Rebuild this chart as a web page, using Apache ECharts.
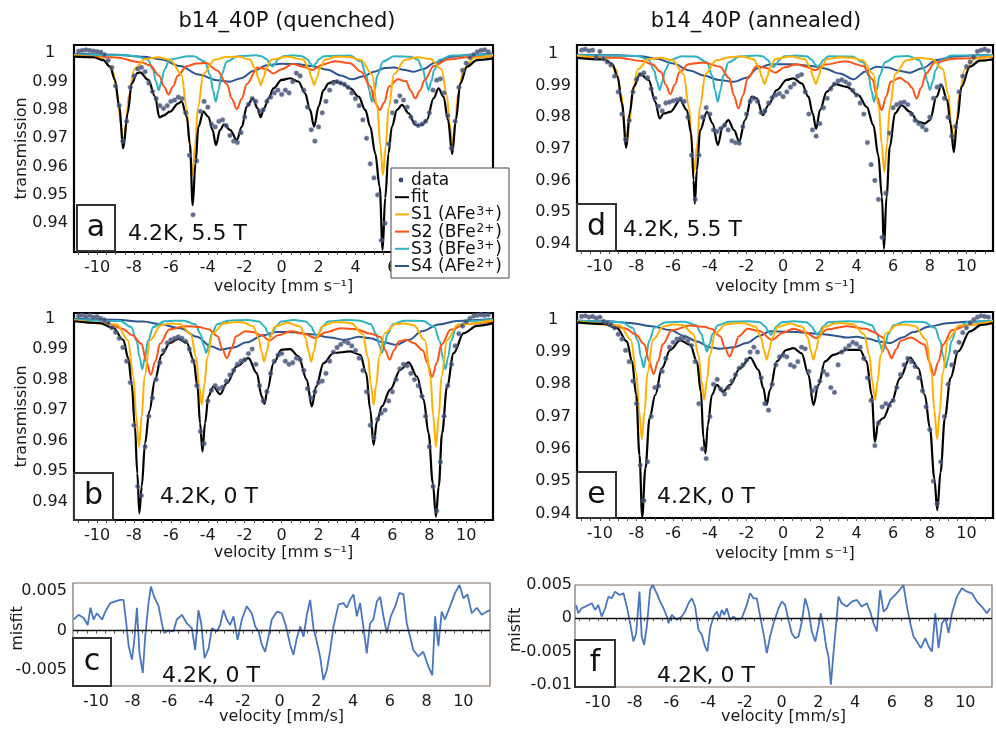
<!DOCTYPE html>
<html><head><meta charset="utf-8">
<script src="https://cdn.jsdelivr.net/npm/echarts/dist/echarts.min.js"></script>
<style>html,body{margin:0;padding:0;background:#fff}#chart{width:996px;height:729px}</style>
</head><body><div id="chart"></div>
<script>
// ---------------- DATA ----------------
const velocity = [
-11,-10.8,-10.6,-10.4,-10.2,-10,-9.8,-9.6,-9.4,-9.2,
-9,-8.8,-8.6,-8.4,-8.2,-8,-7.8,-7.6,-7.4,-7.2,
-7,-6.8,-6.6,-6.4,-6.2,-6,-5.8,-5.6,-5.4,-5.2,
-5,-4.8,-4.6,-4.4,-4.2,-4,-3.8,-3.6,-3.4,-3.2,
-3,-2.8,-2.6,-2.4,-2.2,-2,-1.8,-1.6,-1.4,-1.2,
-1,-0.8,-0.6,-0.4,-0.2,0,0.2,0.4,0.6,0.8,
1,1.2,1.4,1.6,1.8,2,2.2,2.4,2.6,2.8,
3,3.2,3.4,3.6,3.8,4,4.2,4.4,4.6,4.8,
5,5.2,5.4,5.6,5.8,6,6.2,6.4,6.6,6.8,
7,7.2,7.4,7.6,7.8,8,8.2,8.4,8.6,8.8,
9,9.2,9.4,9.6,9.8,10,10.2,10.4,10.6,10.8,
11,11.2];

// quenched, 5.5 T (panel a)
const dataQ55 = [
1.0008,1.0010,1.0012,1.0010,1.0008,1.0006,1.0004,0.9995,0.9975,0.9950,
0.9885,0.9815,0.9690,0.9760,0.9880,0.9920,0.9945,0.9950,0.9935,0.9895,
0.9865,0.9840,0.9815,0.9805,0.9815,0.9830,0.9835,0.9845,0.9840,0.9790,
0.9640,0.9430,0.9620,0.9795,0.9830,0.9810,0.9750,0.9740,0.9760,0.9765,
0.9745,0.9710,0.9690,0.9685,0.9720,0.9775,0.9820,0.9840,0.9830,0.9795,
0.9800,0.9830,0.9845,0.9860,0.9870,0.9855,0.9870,0.9860,0.9900,0.9930,
0.9920,0.9870,0.9810,0.9730,0.9690,0.9740,0.9790,0.9830,0.9870,0.9895,
0.9900,0.9895,0.9890,0.9880,0.9860,0.9840,0.9815,0.9765,0.9700,0.9610,
0.9560,0.9500,0.9340,0.9400,0.9680,0.9790,0.9830,0.9850,0.9835,0.9810,
0.9775,0.9755,0.9745,0.9750,0.9760,0.9790,0.9870,0.9905,0.9910,0.9860,
0.9780,0.9665,0.9760,0.9880,0.9940,0.9965,0.9985,0.9995,1.0005,1.0010,
1.0012,1.0005];
// quenched, 0 T (panel b)
const dataQ0 = [
1.0008,1.0010,1.0006,1.0010,1.0004,1.0006,1.0000,0.9995,0.9985,0.9970,
0.9955,0.9935,0.9905,0.9860,0.9790,0.9650,0.9450,0.9420,0.9580,0.9680,
0.9740,0.9800,0.9855,0.9895,0.9920,0.9930,0.9935,0.9940,0.9935,0.9925,
0.9900,0.9860,0.9780,0.9630,0.9590,0.9730,0.9765,0.9780,0.9770,0.9775,
0.9795,0.9815,0.9830,0.9850,0.9860,0.9865,0.9885,0.9900,0.9850,0.9780,
0.9730,0.9760,0.9820,0.9860,0.9880,0.9885,0.9860,0.9850,0.9855,0.9870,
0.9865,0.9830,0.9770,0.9740,0.9760,0.9790,0.9795,0.9820,0.9860,0.9890,
0.9905,0.9915,0.9925,0.9920,0.9910,0.9895,0.9870,0.9830,0.9760,0.9650,
0.9610,0.9670,0.9690,0.9700,0.9730,0.9760,0.9800,0.9835,0.9850,0.9845,
0.9820,0.9800,0.9780,0.9745,0.9680,0.9580,0.9450,0.9370,0.9530,0.9680,
0.9780,0.9850,0.9910,0.9950,0.9975,0.9990,1.0000,1.0008,1.0010,1.0012,
1.0010,1.0012];
// annealed, 5.5 T (panel d)
const dataA55 = [
1.0012,1.0015,1.0010,1.0012,0.9990,1.0008,0.9985,0.9975,0.9965,0.9930,
0.9880,0.9810,0.9730,0.9790,0.9880,0.9920,0.9935,0.9940,0.9925,0.9890,
0.9860,0.9835,0.9820,0.9845,0.9848,0.9852,0.9855,0.9858,0.9850,0.9800,
0.9680,0.9540,0.9680,0.9800,0.9830,0.9810,0.9760,0.9755,0.9765,0.9775,
0.9760,0.9725,0.9720,0.9718,0.9770,0.9810,0.9850,0.9860,0.9850,0.9815,
0.9820,0.9845,0.9862,0.9870,0.9875,0.9865,0.9880,0.9895,0.9905,0.9930,
0.9935,0.9880,0.9810,0.9760,0.9740,0.9780,0.9830,0.9860,0.9890,0.9905,
0.9915,0.9918,0.9912,0.9905,0.9885,0.9870,0.9845,0.9810,0.9720,0.9650,
0.9600,0.9540,0.9420,0.9560,0.9750,0.9830,0.9840,0.9845,0.9848,0.9840,
0.9810,0.9790,0.9780,0.9770,0.9760,0.9800,0.9860,0.9895,0.9900,0.9860,
0.9800,0.9740,0.9770,0.9880,0.9930,0.9960,0.9975,0.9990,1.0008,1.0012,
1.0015,1.0010];
// annealed, 0 T (panel e)
const dataA0 = [
1.0010,1.0012,1.0008,1.0010,1.0005,1.0008,0.9995,0.9990,0.9985,0.9975,
0.9955,0.9940,0.9905,0.9870,0.9810,0.9740,0.9550,0.9440,0.9560,0.9700,
0.9790,0.9795,0.9840,0.9880,0.9915,0.9930,0.9940,0.9942,0.9945,0.9935,
0.9920,0.9870,0.9740,0.9600,0.9570,0.9700,0.9800,0.9815,0.9785,0.9770,
0.9790,0.9810,0.9830,0.9850,0.9860,0.9875,0.9900,0.9915,0.9900,0.9820,
0.9740,0.9720,0.9800,0.9860,0.9885,0.9890,0.9885,0.9860,0.9855,0.9870,
0.9915,0.9910,0.9840,0.9780,0.9790,0.9810,0.9840,0.9830,0.9790,0.9775,
0.9860,0.9900,0.9910,0.9920,0.9930,0.9925,0.9915,0.9880,0.9820,0.9750,
0.9610,0.9680,0.9730,0.9740,0.9735,0.9750,0.9790,0.9830,0.9860,0.9880,
0.9870,0.9855,0.9820,0.9780,0.9730,0.9660,0.9500,0.9430,0.9560,0.9700,
0.9800,0.9860,0.9900,0.9930,0.9960,0.9975,0.9990,1.0000,1.0008,1.0012,
1.0010,1.0008];

// fits [velocity, transmission]
const fitQ55 = [[-11.25,0.9988],[-10.2,0.9986],[-9.66,0.9976],[-9.3,0.9953],[-9.03,0.9906],[-8.8,0.981],[-8.58,0.9665],[-8.34,0.979],[-8.12,0.9894],[-7.82,0.993],[-7.67,0.9933],[-7.22,0.9906],[-6.86,0.9847],[-6.62,0.9774],[-6.41,0.978],[-6.05,0.9794],[-5.6,0.9823],[-5.42,0.983],[-5.14,0.9776],[-4.97,0.968],[-4.82,0.9464],[-4.67,0.961],[-4.51,0.9741],[-4.24,0.9794],[-3.97,0.9776],[-3.74,0.9729],[-3.56,0.9676],[-3.34,0.9729],[-3.12,0.9749],[-2.79,0.9729],[-2.43,0.9694],[-2.16,0.974],[-1.89,0.9812],[-1.56,0.984],[-1.31,0.9806],[-1.14,0.9775],[-0.95,0.9806],[-0.71,0.9841],[-0.44,0.9876],[0,0.9906],[0.46,0.9912],[0.91,0.99],[1.27,0.9859],[1.54,0.98],[1.76,0.9741],[2.0,0.9812],[2.27,0.987],[2.54,0.9894],[2.85,0.9902],[3.26,0.9894],[3.72,0.9876],[4.17,0.9847],[4.53,0.98],[4.8,0.9741],[5.07,0.9647],[5.31,0.9529],[5.47,0.9306],[5.61,0.949],[5.79,0.9647],[5.97,0.9741],[6.25,0.98],[6.52,0.9818],[6.88,0.9788],[7.24,0.9747],[7.6,0.9747],[7.87,0.9765],[8.23,0.9841],[8.5,0.9876],[8.77,0.9847],[9.01,0.9765],[9.24,0.9645],[9.44,0.9765],[9.68,0.9894],[10.04,0.9953],[10.58,0.9976],[11.45,0.9982]];
const fitQ0 = [[-11.25,0.9991],[-9.85,0.9985],[-9.12,0.9969],[-8.58,0.993],[-8.31,0.987],[-8.13,0.9788],[-7.95,0.9646],[-7.82,0.9493],[-7.71,0.9362],[-7.58,0.945],[-7.4,0.9592],[-7.17,0.9696],[-6.86,0.98],[-6.5,0.9881],[-6.05,0.992],[-5.6,0.9933],[-5.14,0.992],[-4.78,0.9865],[-4.56,0.9777],[-4.42,0.9657],[-4.29,0.9564],[-4.15,0.9657],[-3.97,0.9745],[-3.7,0.9777],[-3.33,0.9752],[-2.97,0.9788],[-2.43,0.9843],[-1.8,0.987],[-1.35,0.9821],[-1.08,0.9745],[-0.93,0.972],[-0.77,0.9767],[-0.44,0.9854],[0,0.9898],[0.46,0.99],[0.91,0.9876],[1.36,0.98],[1.63,0.9712],[1.87,0.9777],[2.27,0.9854],[2.81,0.9887],[3.72,0.9892],[4.26,0.9881],[4.58,0.9821],[4.8,0.9701],[4.98,0.9586],[5.16,0.9663],[5.43,0.9712],[5.88,0.9767],[6.43,0.9832],[6.88,0.9856],[7.33,0.981],[7.69,0.9734],[7.96,0.9624],[8.19,0.946],[8.36,0.9351],[8.51,0.945],[8.69,0.9624],[8.96,0.9777],[9.32,0.9887],[9.86,0.9952],[10.58,0.9976],[11.45,0.9985]];
const fitA55 = [[-11.25,0.9988],[-9.8,0.9983],[-9.34,0.997],[-9.03,0.9928],[-8.8,0.9844],[-8.56,0.9704],[-8.38,0.9812],[-8.16,0.9896],[-7.8,0.9937],[-7.34,0.9918],[-6.98,0.9849],[-6.74,0.9796],[-6.52,0.9812],[-6.16,0.9817],[-5.62,0.9854],[-5.26,0.9823],[-5.02,0.9749],[-4.89,0.9601],[-4.82,0.9527],[-4.71,0.9632],[-4.53,0.9759],[-4.16,0.9817],[-3.84,0.978],[-3.57,0.9712],[-3.3,0.977],[-2.99,0.9791],[-2.68,0.9759],[-2.4,0.9724],[-2.08,0.9791],[-1.71,0.9865],[-1.44,0.986],[-1.11,0.9807],[-0.81,0.9838],[-0.35,0.9886],[0.19,0.9918],[0.56,0.9923],[1.01,0.9907],[1.38,0.9865],[1.61,0.9812],[1.8,0.9764],[2.01,0.9823],[2.38,0.9881],[2.83,0.9905],[3.47,0.9896],[4.1,0.987],[4.56,0.9833],[4.92,0.9775],[5.19,0.968],[5.39,0.9548],[5.5,0.9384],[5.64,0.9548],[5.82,0.9706],[6.1,0.9812],[6.46,0.9838],[6.92,0.9817],[7.37,0.9786],[7.73,0.978],[8.01,0.9791],[8.37,0.9865],[8.64,0.9902],[8.95,0.9854],[9.13,0.978],[9.31,0.969],[9.5,0.9791],[9.73,0.9896],[10.19,0.996],[10.73,0.9979],[11.45,0.9983]];
const fitA0 = [[-11.25,0.9992],[-9.8,0.9987],[-9.07,0.9974],[-8.53,0.9933],[-8.25,0.9871],[-8.02,0.9767],[-7.84,0.9581],[-7.69,0.9389],[-7.52,0.9539],[-7.29,0.9695],[-6.98,0.9767],[-6.62,0.985],[-6.16,0.9907],[-5.62,0.9936],[-5.07,0.9922],[-4.71,0.9871],[-4.49,0.9777],[-4.35,0.9633],[-4.24,0.9586],[-4.11,0.9674],[-3.89,0.9767],[-3.62,0.9798],[-3.29,0.9777],[-2.9,0.9798],[-2.35,0.985],[-1.8,0.9883],[-1.35,0.9845],[-1.08,0.9788],[-0.9,0.9736],[-0.72,0.9783],[-0.35,0.9871],[0.19,0.9907],[0.56,0.9912],[1.01,0.9896],[1.38,0.9829],[1.65,0.9736],[1.92,0.9798],[2.28,0.9871],[2.74,0.9891],[3.46,0.9907],[4.19,0.9907],[4.55,0.9871],[4.83,0.9767],[5.01,0.9622],[5.19,0.9684],[5.46,0.9695],[5.92,0.9746],[6.37,0.9819],[6.92,0.9883],[7.37,0.985],[7.73,0.9767],[8.01,0.9664],[8.25,0.9508],[8.41,0.941],[8.59,0.9529],[8.82,0.9695],[9.13,0.9819],[9.55,0.9902],[10.19,0.9964],[10.82,0.9984],[11.45,0.999]];

// S1 (AFe3+) sextets
const s1Q55 = [[-11.25,0.9993],[-9.78,0.9984],[-9.18,0.9945],[-8.88,0.9854],[-8.73,0.9754],[-8.58,0.9676],[-8.43,0.9754],[-8.28,0.9854],[-7.98,0.9945],[-7.38,0.998],[-6.7,0.9986],[-6.04,0.9977],[-5.44,0.9927],[-5.14,0.9807],[-4.99,0.9674],[-4.84,0.9571],[-4.69,0.9674],[-4.54,0.9807],[-4.24,0.9927],[-3.64,0.9977],[-2.95,0.9987],[-2.33,0.9988],[-1.73,0.9978],[-1.43,0.9948],[-1.28,0.9914],[-1.13,0.9888],[-0.98,0.9914],[-0.83,0.9948],[-0.53,0.9978],[0.31,0.9988],[1.16,0.9978],[1.46,0.9948],[1.61,0.9914],[1.76,0.9888],[1.91,0.9914],[2.06,0.9948],[2.36,0.9978],[2.96,0.9988],[3.6,0.9987],[4.29,0.9977],[4.89,0.9927],[5.19,0.9807],[5.34,0.9674],[5.49,0.9571],[5.64,0.9674],[5.79,0.9807],[6.09,0.9927],[6.69,0.9977],[7.37,0.9986],[8.05,0.998],[8.65,0.9945],[8.95,0.9854],[9.1,0.9754],[9.25,0.9676],[9.4,0.9754],[9.55,0.9854],[9.85,0.9945],[10.45,0.9984],[11.45,0.9993]];
const s1Q0 = [[-11.25,0.9994],[-8.93,0.998],[-8.33,0.9929],[-8.03,0.981],[-7.88,0.968],[-7.73,0.958],[-7.58,0.968],[-7.43,0.981],[-7.13,0.9929],[-6.53,0.9978],[-6.03,0.9984],[-5.53,0.9982],[-4.93,0.995],[-4.63,0.9873],[-4.48,0.9785],[-4.33,0.9717],[-4.18,0.9785],[-4.03,0.9873],[-3.73,0.9952],[-3.13,0.9984],[-2.64,0.9988],[-2.15,0.9988],[-1.55,0.9975],[-1.25,0.9937],[-1.1,0.9893],[-0.95,0.9859],[-0.8,0.9893],[-0.65,0.9937],[-0.35,0.9974],[0.32,0.9986],[1.0,0.9974],[1.3,0.9937],[1.45,0.9893],[1.6,0.9859],[1.75,0.9893],[1.9,0.9937],[2.2,0.9975],[2.8,0.9988],[3.3,0.9988],[3.78,0.9984],[4.38,0.995],[4.68,0.9873],[4.83,0.9785],[4.98,0.9717],[5.13,0.9785],[5.28,0.9873],[5.58,0.9952],[6.18,0.9982],[6.66,0.9984],[7.16,0.9978],[7.76,0.9929],[8.06,0.981],[8.21,0.968],[8.36,0.958],[8.51,0.968],[8.66,0.981],[8.96,0.9929],[9.56,0.998],[11.45,0.9994]];
const s1A55 = [[-11.25,0.9995],[-9.73,0.9986],[-9.13,0.9952],[-8.83,0.9873],[-8.68,0.9785],[-8.53,0.9717],[-8.38,0.9785],[-8.23,0.9873],[-7.93,0.9952],[-7.33,0.9984],[-6.7,0.9988],[-6.04,0.998],[-5.44,0.9937],[-5.14,0.9833],[-4.99,0.9717],[-4.84,0.9627],[-4.69,0.9717],[-4.54,0.9833],[-4.24,0.9937],[-3.64,0.998],[-2.93,0.999],[-2.22,0.9992],[-1.62,0.9984],[-1.32,0.9957],[-1.17,0.9928],[-1.02,0.9905],[-0.87,0.9928],[-0.72,0.9957],[-0.42,0.9984],[0.38,0.9992],[1.18,0.9984],[1.48,0.9957],[1.63,0.9928],[1.78,0.9905],[1.93,0.9928],[2.08,0.9957],[2.38,0.9984],[3.1,0.999],[3.72,0.9988],[4.32,0.998],[4.92,0.9937],[5.22,0.9833],[5.37,0.9717],[5.52,0.9627],[5.67,0.9717],[5.82,0.9833],[6.12,0.9937],[6.72,0.998],[7.4,0.9988],[8.11,0.9984],[8.71,0.9952],[9.01,0.9873],[9.16,0.9785],[9.31,0.9717],[9.46,0.9785],[9.61,0.9873],[9.91,0.9952],[10.51,0.9986],[11.45,0.9994]];
const s1A0 = [[-11.25,0.9995],[-8.91,0.9982],[-8.31,0.9938],[-8.01,0.9834],[-7.86,0.9719],[-7.71,0.963],[-7.56,0.9719],[-7.41,0.9834],[-7.11,0.9938],[-6.51,0.998],[-6.0,0.9985],[-5.51,0.9984],[-4.91,0.9956],[-4.61,0.9889],[-4.46,0.9812],[-4.31,0.9752],[-4.16,0.9812],[-4.01,0.9889],[-3.71,0.9958],[-3.11,0.9986],[-2.6,0.9989],[-2.1,0.9989],[-1.5,0.9978],[-1.2,0.9944],[-1.05,0.9906],[-0.9,0.9876],[-0.75,0.9906],[-0.6,0.9944],[-0.3,0.9978],[0.37,0.9988],[1.05,0.9978],[1.35,0.9944],[1.5,0.9906],[1.65,0.9876],[1.8,0.9906],[1.95,0.9944],[2.25,0.9978],[2.85,0.9989],[3.35,0.9989],[3.81,0.9986],[4.41,0.9956],[4.71,0.9889],[4.86,0.9812],[5.01,0.9752],[5.16,0.9812],[5.31,0.9889],[5.61,0.9958],[6.21,0.9984],[6.7,0.9985],[7.2,0.998],[7.8,0.9938],[8.1,0.9834],[8.25,0.9719],[8.4,0.963],[8.55,0.9719],[8.7,0.9834],[9.0,0.9938],[9.6,0.9982],[11.45,0.9995]];

// S2 (BFe2+)
const s2Q55 = [[-11.25,0.9992],[-9,0.9985],[-7.6,0.9968],[-7.13,0.9958],[-6.63,0.9921],[-6.38,0.9883],[-6.13,0.9855],[-5.88,0.9883],[-5.63,0.9921],[-5.13,0.9955],[-4.6,0.9964],[-4.1,0.9966],[-3.5,0.994],[-2.97,0.9892],[-2.7,0.984],[-2.43,0.9803],[-2.16,0.984],[-1.89,0.9892],[-1.3,0.995],[-0.85,0.9944],[-0.44,0.9929],[0,0.9944],[0.6,0.9962],[1.2,0.9952],[1.67,0.9941],[2.2,0.996],[2.9,0.9972],[3.7,0.9965],[4.3,0.9935],[4.81,0.9883],[5.06,0.9826],[5.31,0.98],[5.56,0.9826],[5.81,0.9883],[6.3,0.9908],[6.74,0.9901],[6.99,0.9868],[7.24,0.9841],[7.49,0.9868],[7.74,0.9905],[8.24,0.9955],[9,0.9978],[10,0.9986],[11.45,0.999]];
const s2Q0 = [[-11.25,0.9993],[-9.5,0.9985],[-8.6,0.9966],[-8.09,0.9945],[-7.59,0.9917],[-7.34,0.986],[-7.09,0.9816],[-6.84,0.986],[-6.59,0.9917],[-6.09,0.9964],[-5.2,0.9975],[-4.5,0.9972],[-3.97,0.9965],[-3.47,0.9942],[-3.22,0.9901],[-2.97,0.987],[-2.72,0.9901],[-2.47,0.9942],[-1.97,0.9958],[-1.5,0.9955],[-1.1,0.9945],[-0.66,0.9928],[-0.2,0.9945],[0.5,0.9958],[1.2,0.995],[1.82,0.9936],[2.4,0.9955],[3.2,0.9968],[4.0,0.9965],[4.85,0.995],[5.35,0.9939],[5.6,0.9897],[5.85,0.9865],[6.1,0.9897],[6.35,0.9925],[6.75,0.993],[7.15,0.992],[7.65,0.9895],[7.9,0.9854],[8.15,0.9808],[8.4,0.9854],[8.65,0.9914],[9.15,0.9963],[10,0.9982],[11.45,0.999]];
const s2A55 = [[-11.25,0.9993],[-9,0.9988],[-7.7,0.9978],[-7.16,0.9968],[-6.66,0.9943],[-6.41,0.9903],[-6.16,0.9873],[-5.91,0.9903],[-5.66,0.9943],[-5.16,0.9968],[-4.35,0.9973],[-3.44,0.996],[-2.94,0.9923],[-2.69,0.9869],[-2.44,0.9828],[-2.19,0.9869],[-1.94,0.9923],[-1.44,0.9962],[-0.9,0.9955],[-0.44,0.9941],[0.1,0.9958],[0.7,0.9968],[1.25,0.996],[1.74,0.9949],[2.3,0.9967],[3.4,0.9977],[4.37,0.9962],[4.87,0.992],[5.12,0.9865],[5.37,0.9822],[5.62,0.9865],[5.87,0.9912],[6.37,0.9925],[6.78,0.991],[7.03,0.9893],[7.28,0.9859],[7.53,0.9893],[7.78,0.9937],[8.28,0.9973],[9.3,0.9985],[11.45,0.9991]];
const s2A0 = [[-11.25,0.9993],[-9.5,0.9987],[-8.6,0.9973],[-8.07,0.9955],[-7.57,0.9924],[-7.32,0.9872],[-7.07,0.9832],[-6.82,0.9872],[-6.57,0.9924],[-6.07,0.9968],[-5.07,0.9982],[-4.3,0.9978],[-3.93,0.9972],[-3.43,0.9949],[-3.18,0.9913],[-2.93,0.9886],[-2.68,0.9913],[-2.43,0.9949],[-1.93,0.9972],[-1.3,0.9965],[-0.62,0.9938],[0,0.996],[0.56,0.9972],[1.2,0.9962],[1.79,0.9943],[2.4,0.997],[3.46,0.998],[4.5,0.9972],[4.92,0.9962],[5.42,0.9946],[5.67,0.9909],[5.92,0.9881],[6.17,0.9909],[6.42,0.9935],[6.95,0.9945],[7.72,0.9923],[7.97,0.987],[8.22,0.9829],[8.47,0.987],[8.72,0.9923],[9.22,0.9968],[10.2,0.9985],[11.45,0.9991]];

// S3 (BFe3+)
const s3Q55 = [[-11.25,0.9996],[-8.5,0.9993],[-7.86,0.999],[-7.26,0.9978],[-6.96,0.9942],[-6.81,0.9901],[-6.66,0.987],[-6.51,0.9901],[-6.36,0.9942],[-6.06,0.9978],[-5.1,0.999],[-4.77,0.999],[-4.17,0.9971],[-3.87,0.9923],[-3.72,0.987],[-3.57,0.9829],[-3.42,0.987],[-3.27,0.9923],[-2.97,0.9971],[-2.37,0.999],[-1.4,0.9993],[-1.1,0.999],[-0.8,0.9979],[-0.65,0.9964],[-0.5,0.9953],[-0.35,0.9964],[-0.2,0.9979],[0.1,0.999],[0.6,0.9993],[1.1,0.999],[1.4,0.9979],[1.55,0.9964],[1.7,0.9953],[1.85,0.9964],[2.0,0.9979],[2.3,0.999],[3.69,0.9992],[4.29,0.9971],[4.59,0.9923],[4.74,0.987],[4.89,0.9829],[5.04,0.987],[5.19,0.9923],[5.49,0.9971],[6.1,0.999],[7.0,0.9988],[7.36,0.9978],[7.66,0.9942],[7.81,0.9901],[7.96,0.987],[8.11,0.9901],[8.26,0.9942],[8.56,0.9978],[9.2,0.9992],[11.45,0.9996]];
const s3Q0 = [[-11.25,0.9997],[-8.75,0.9992],[-8.15,0.9972],[-7.85,0.9926],[-7.7,0.9874],[-7.55,0.9834],[-7.4,0.9874],[-7.25,0.9926],[-6.95,0.9972],[-6.35,0.9991],[-5.82,0.9993],[-5.29,0.9993],[-4.69,0.9981],[-4.39,0.9949],[-4.24,0.9914],[-4.09,0.9887],[-3.94,0.9914],[-3.79,0.9949],[-3.49,0.9981],[-2.89,0.9993],[-1.82,0.9995],[-1.22,0.999],[-0.92,0.9974],[-0.77,0.9955],[-0.62,0.9941],[-0.47,0.9955],[-0.32,0.9974],[-0.02,0.999],[0.65,0.9995],[1.31,0.999],[1.61,0.9974],[1.76,0.9955],[1.91,0.9941],[2.06,0.9955],[2.21,0.9974],[2.51,0.999],[3.5,0.9995],[4.23,0.9993],[4.83,0.9981],[5.13,0.9949],[5.28,0.9914],[5.43,0.9887],[5.58,0.9914],[5.73,0.9949],[6.03,0.9981],[6.63,0.9993],[7.67,0.9992],[8.27,0.9972],[8.57,0.9926],[8.72,0.9874],[8.87,0.9834],[9.02,0.9874],[9.17,0.9926],[9.47,0.9972],[10.07,0.9992],[11.45,0.9997]];
const s3A55 = [[-11.25,0.9997],[-7.94,0.9994],[-7.34,0.9981],[-7.04,0.9949],[-6.89,0.9913],[-6.74,0.9886],[-6.59,0.9913],[-6.44,0.9949],[-6.14,0.9981],[-5.54,0.9993],[-4.77,0.9992],[-4.17,0.9974],[-3.87,0.9932],[-3.72,0.9885],[-3.57,0.9849],[-3.42,0.9885],[-3.27,0.9932],[-2.97,0.9974],[-2.37,0.9992],[-1.4,0.9995],[-1.13,0.9993],[-0.83,0.9981],[-0.68,0.9968],[-0.53,0.9958],[-0.38,0.9968],[-0.23,0.9981],[0.07,0.9993],[0.7,0.9995],[1.28,0.9993],[1.58,0.9981],[1.73,0.9968],[1.88,0.9958],[2.03,0.9968],[2.18,0.9981],[2.48,0.9993],[3.76,0.9992],[4.36,0.9974],[4.66,0.9932],[4.81,0.9885],[4.96,0.9849],[5.11,0.9885],[5.26,0.9932],[5.56,0.9974],[6.16,0.9992],[6.81,0.9994],[7.41,0.9981],[7.71,0.9949],[7.86,0.9913],[8.01,0.9886],[8.16,0.9913],[8.31,0.9949],[8.61,0.9981],[9.21,0.9995],[11.45,0.9997]];
const s3A0 = [[-11.25,0.9997],[-8.82,0.9993],[-8.22,0.9975],[-7.92,0.9934],[-7.77,0.9887],[-7.62,0.9852],[-7.47,0.9887],[-7.32,0.9934],[-7.02,0.9975],[-6.42,0.9992],[-5.89,0.9993],[-5.36,0.9994],[-4.76,0.9983],[-4.46,0.9956],[-4.31,0.9925],[-4.16,0.9902],[-4.01,0.9925],[-3.86,0.9956],[-3.56,0.9983],[-2.96,0.9994],[-1.87,0.9995],[-1.27,0.9992],[-0.97,0.9979],[-0.82,0.9964],[-0.67,0.9953],[-0.52,0.9964],[-0.37,0.9979],[-0.07,0.9992],[0.6,0.9995],[1.27,0.9992],[1.57,0.9979],[1.72,0.9964],[1.87,0.9953],[2.02,0.9964],[2.17,0.9979],[2.47,0.9992],[3.5,0.9995],[4.23,0.9994],[4.83,0.9983],[5.13,0.9956],[5.28,0.9925],[5.43,0.9902],[5.58,0.9925],[5.73,0.9956],[6.03,0.9983],[6.63,0.9994],[7.68,0.9993],[8.28,0.9975],[8.58,0.9934],[8.73,0.9887],[8.88,0.9852],[9.03,0.9887],[9.18,0.9934],[9.48,0.9975],[10.08,0.9993],[11.45,0.9997]];

// S4 (AFe2+)
const s4Q55 = [[-11.25,0.9998],[-9,0.9995],[-7.5,0.9988],[-6.5,0.9978],[-5.5,0.9955],[-4.5,0.9925],[-3.5,0.9905],[-2.8,0.99],[-2.2,0.9912],[-1.5,0.9938],[-0.8,0.9958],[0,0.9963],[0.8,0.9962],[1.6,0.9955],[2.5,0.9942],[3.2,0.9922],[3.8,0.9908],[4.4,0.9918],[5.0,0.9935],[5.6,0.9948],[6.1,0.995],[6.6,0.9942],[7.15,0.9935],[7.7,0.9945],[8.3,0.9967],[9.2,0.9988],[10.2,0.9995],[11.45,0.9998]];
const s4Q0 = [[-11.25,0.9999],[-9,0.9996],[-7.5,0.999],[-6.5,0.998],[-5.5,0.9968],[-4.6,0.994],[-3.8,0.9908],[-3.3,0.9898],[-2.6,0.9905],[-1.9,0.9922],[-1.0,0.9945],[-0.3,0.9956],[0.6,0.9955],[1.6,0.9948],[2.6,0.9938],[3.4,0.993],[4.2,0.994],[4.8,0.9935],[5.5,0.9922],[6.2,0.9914],[6.9,0.993],[7.6,0.9958],[8.5,0.998],[9.5,0.9992],[11.45,0.9998]];
const s4A55 = [[-11.25,0.9998],[-9,0.9996],[-7.8,0.9993],[-6.9,0.9985],[-6.0,0.997],[-5.1,0.9948],[-4.35,0.9932],[-3.5,0.9918],[-2.7,0.9912],[-2.0,0.9925],[-1.4,0.9955],[-0.72,0.9967],[0,0.9968],[0.74,0.9967],[1.5,0.9962],[2.2,0.9955],[3.1,0.9938],[3.83,0.992],[4.5,0.9945],[5.1,0.996],[5.7,0.9957],[6.3,0.9947],[6.92,0.9941],[7.6,0.9955],[8.37,0.9981],[9.3,0.9992],[10.5,0.9996],[11.45,0.9997]];
const s4A0 = [[-11.25,0.9998],[-9.5,0.9995],[-8.34,0.999],[-7.2,0.998],[-6.16,0.9968],[-5.4,0.995],[-4.71,0.9933],[-4.0,0.9915],[-3.44,0.991],[-2.7,0.9915],[-1.99,0.9928],[-1.3,0.995],[-0.71,0.9964],[0,0.9963],[0.74,0.9962],[1.5,0.9958],[2.19,0.9955],[2.9,0.995],[3.46,0.9945],[4.0,0.9947],[4.6,0.9942],[5.2,0.9933],[5.83,0.9928],[6.5,0.9945],[7.1,0.9962],[8.0,0.9979],[8.92,0.9989],[10.0,0.9994],[11.45,0.9997]];

// misfit (0 T) [velocity, misfit]
const misfitQ = [[-11.22,0.0014],[-10.95,0.0020],[-10.67,0.0016],[-10.45,0.0007],[-10.3,0.0029],[-10.13,0.0014],[-9.95,0.0022],[-9.67,0.0014],[-9.49,0.0024],[-9.22,0.0035],[-8.95,0.0037],[-8.68,0.0039],[-8.5,0.0039],[-8.35,0.0009],[-8.22,-0.0020],[-8.04,-0.0037],[-7.92,-0.0014],[-7.77,0.0029],[-7.63,-0.0029],[-7.45,-0.0054],[-7.32,-0.0008],[-7.14,0.0035],[-7.01,0.0056],[-6.83,0.0043],[-6.59,0.0031],[-6.41,0.0009],[-6.29,-0.0003],[-6.05,0.0000],[-5.78,-0.0001],[-5.6,0.0014],[-5.32,0.0020],[-5.05,0.0009],[-4.78,0.0003],[-4.6,-0.0025],[-4.42,0.0026],[-4.27,0.0009],[-4.09,-0.0035],[-3.87,-0.0023],[-3.69,0.0003],[-3.42,-0.0001],[-3.24,0.0007],[-3.06,0.0026],[-2.88,0.0014],[-2.7,0.0007],[-2.51,0.0018],[-2.29,-0.0012],[-2.06,0.0014],[-1.79,0.0031],[-1.52,0.0022],[-1.33,0.0005],[-1.15,-0.0001],[-0.97,-0.0018],[-0.79,-0.0027],[-0.61,-0.0008],[-0.43,0.0014],[-0.15,0.0024],[0.12,0.0022],[0.35,0.0005],[0.57,-0.0018],[0.75,-0.0031],[0.93,-0.0010],[1.12,0.0005],[1.3,-0.0008],[1.48,0.0020],[1.66,0.0039],[1.84,0.0003],[2.02,-0.0014],[2.2,-0.0033],[2.38,-0.0063],[2.57,-0.0050],[2.75,-0.0025],[2.93,0.0005],[3.2,0.0033],[3.47,0.0035],[3.65,0.0029],[3.83,0.0039],[4.02,0.0046],[4.2,0.0018],[4.38,0.0035],[4.6,-0.0003],[4.74,-0.0029],[4.92,0.0009],[5.1,0.0014],[5.29,0.0037],[5.47,0.0043],[5.65,0.0018],[5.83,-0.0003],[6.05,0.0018],[6.29,0.0031],[6.52,0.0048],[6.74,0.0046],[6.92,0.0009],[7.1,-0.0008],[7.28,-0.0025],[7.55,-0.0033],[7.82,-0.0027],[8.1,-0.0046],[8.31,-0.0057],[8.46,0.0018],[8.64,-0.0020],[8.82,0.0024],[9.0,0.0014],[9.28,0.0031],[9.55,0.0048],[9.79,0.0058],[10.0,0.0041],[10.22,0.0046],[10.46,0.0022],[10.73,0.0029],[11.0,0.0020],[11.27,0.0024],[11.45,0.0026]];
const misfitA = [[-11.19,0.0020],[-11.07,0.00075],[-10.89,0.0015],[-10.7,0.00175],[-10.52,0.0020],[-10.34,0.00225],[-10.16,0.00125],[-9.98,0.0020],[-9.8,0.00025],[-9.61,0.0015],[-9.43,0.00325],[-9.25,0.0030],[-9.07,0.0040],[-8.83,0.0035],[-8.61,0.00375],[-8.43,0.00175],[-8.25,-0.00075],[-8.07,-0.0035],[-7.92,-0.00225],[-7.74,0.0040],[-7.62,-0.00275],[-7.49,-0.0040],[-7.34,-0.00125],[-7.16,0.00425],[-7.02,0.0050],[-6.8,0.00375],[-6.62,0.0025],[-6.43,0.0015],[-6.25,0.00025],[-6.16,-0.00075],[-5.98,0.0005],[-5.71,-0.00025],[-5.44,0.00025],[-5.26,0.0010],[-5.07,0.00225],[-4.89,0.0030],[-4.71,0.00175],[-4.53,-0.00175],[-4.35,-0.0025],[-4.17,-0.00425],[-4.04,-0.0050],[-3.89,-0.0015],[-3.71,0.00025],[-3.53,0.0010],[-3.39,0],[-3.26,0.00125],[-3.13,0.0005],[-2.99,0.0015],[-2.8,-0.00025],[-2.62,0.00025],[-2.41,-0.00025],[-2.17,0],[-1.9,0.0020],[-1.72,0.00375],[-1.53,0.0030],[-1.35,0.0030],[-1.17,0.00025],[-0.99,-0.00225],[-0.81,-0.00525],[-0.63,-0.00275],[-0.44,-0.00075],[-0.17,0.0015],[0.01,0.0025],[0.19,0.0020],[0.37,-0.00025],[0.55,-0.00225],[0.74,-0.0030],[0.92,-0.00275],[1.1,-0.0005],[1.28,0.0030],[1.46,0.00125],[1.64,-0.0020],[1.83,-0.0035],[2.0,-0.00125],[2.13,0.00075],[2.28,-0.0015],[2.42,-0.00425],[2.55,-0.00575],[2.68,-0.0100],[2.82,-0.00525],[3.0,0.00025],[3.09,0.00325],[3.27,0.00225],[3.54,0.00175],[3.82,0.0025],[4.09,0.00275],[4.36,0.00175],[4.64,0.00225],[4.82,0.0010],[5.0,-0.00075],[5.18,-0.0020],[5.36,0.00425],[5.55,0.0010],[5.73,0.0015],[5.91,0.00275],[6.18,0.0035],[6.42,0.00425],[6.63,0.0050],[6.85,0.00125],[7.04,-0.00125],[7.18,-0.00275],[7.36,-0.0035],[7.58,-0.0045],[7.82,-0.0030],[8.0,-0.00425],[8.18,-0.0050],[8.36,0.00075],[8.54,-0.0045],[8.73,-0.00075],[8.91,0],[9.09,-0.00225],[9.27,0.00075],[9.54,0.00325],[9.81,0.0045],[10.09,0.0040],[10.36,0.00375],[10.63,0.0025],[10.9,0.00175],[11.17,0.00075],[11.35,0.0015]];

// tick labels
const xTickLabels = [-10,-8,-6,-4,-2,0,2,4,6,8,10];
const xTickMarks = [-11,-10.5,-10,-9.5,-9,-8.5,-8,-7.5,-7,-6.5,-6,-5.5,-5,-4.5,-4,-3.5,-3,-2.5,-2,-1.5,-1,-0.5,0,0.5,1,1.5,2,2.5,3,3.5,4,4.5,5,5.5,6,6.5,7,7.5,8,8.5,9,9.5,10,10.5,11];
const yTickLabels = [0.94,0.95,0.96,0.97,0.98,0.99,1];
const misfitTicksQ = [-0.005,0,0.005];
const misfitTicksA = [-0.01,-0.005,0,0.005];

const titles = ['b14_40P (quenched)','b14_40P (annealed)'];
const panelLetters = ['a','b','c','d','e','f'];
const conditions = ['4.2K, 5.5 T','4.2K, 0 T','4.2K, 0 T','4.2K, 5.5 T','4.2K, 0 T','4.2K, 0 T'];
// legend entries: [main text, superscript, closing]
const legendEntries = [['data','',''],['fit','',''],['S1 (AFe','3+',')'],['S2 (BFe','2+',')'],['S3 (BFe','3+',')'],['S4 (AFe','2+',')']];
const seriesNames = ['S4 (AFe²⁺)','S3 (BFe³⁺)','S2 (BFe²⁺)','S1 (AFe³⁺)','fit','data'];

// ---------------- STYLE / LAYOUT ----------------
const FONT = '"DejaVu Sans", Verdana, sans-serif';
const C = {s1:'#FFB000', s2:'#FF5216', s3:'#2DB4C0', s4:'#2E5591', fit:'#000000', data:'#39496F', mis:'#4A76C0', txt:'#1a1a1a'};

const grids = [
  {left:74,  top:45,  width:419, height:207},  // a
  {left:74,  top:313, width:419, height:207},  // b
  {left:73,  top:583, width:417, height:103},  // c
  {left:577, top:45,  width:416, height:206},  // d
  {left:577, top:312, width:416, height:206},  // e
  {left:575, top:585, width:417, height:102}   // f
];
const yRange = [[0.92987,1.00293],[0.934,1.0018],[-0.00706,0.00605],[0.9377,1.00285],[0.9386,1.0024],[-0.01035,0.005]];
const isMisfit = [false,false,true,false,false,true];

const fmt = v => String(+(+v).toFixed(4));

const gridOpts = grids.map((g,i)=>Object.assign({}, g, {
  show:true, backgroundColor:'transparent',
  borderColor: isMisfit[i] ? '#7f6e63' : '#000',
  borderWidth: isMisfit[i] ? 1.2 : 2.2, containLabel:false
}));

const xNames = ['velocity [mm s⁻¹]','velocity [mm s⁻¹]','velocity [mm/s]','velocity [mm s⁻¹]','velocity [mm s⁻¹]','velocity [mm/s]'];
const xGaps = [27,25,23,28,28,22];
const xAxes = grids.map((g,i)=>({
  type:'value', gridIndex:i, min:-11.25, max:11.45,
  axisLine:{show:false},
  axisTick:{show:true, customValues:xTickMarks, length:3, lineStyle:{color:'#555', width:1}},
  axisLabel:{customValues:xTickLabels, fontSize:16, color:C.txt, fontFamily:FONT, margin:8},
  splitLine:{show:false},
  name:xNames[i], nameLocation:'middle', nameGap:xGaps[i], nameMoveOverlap:false,
  nameTextStyle:{fontSize:16, color:C.txt, fontFamily:FONT}
}));

const yNames = ['transmission','transmission','misfit','','','misfit'];
const yGaps = [44,44,47,0,0,51];
const yAxes = grids.map((g,i)=>({
  type:'value', gridIndex:i, min:yRange[i][0], max:yRange[i][1],
  axisLine:{show:false}, axisTick:{show:false}, splitLine:{show:false},
  axisLabel:{
    customValues: i===2 ? misfitTicksQ : (i===5 ? misfitTicksA : yTickLabels),
    formatter: fmt, fontSize:16, color:C.txt, fontFamily:FONT,
    align: isMisfit[i] ? 'right' : 'center',
    margin: i===2 ? 6 : (i===5 ? 3 : 24)
  },
  name:yNames[i], nameLocation:'middle', nameGap:yGaps[i], nameMoveOverlap:false,
  nameTextStyle:{fontSize:16, color:C.txt, fontFamily:FONT, padding: isMisfit[i] ? [0,0,0,12] : 0}
}));

function line(name, gi, data, color, width){
  return {name, type:'line', xAxisIndex:gi, yAxisIndex:gi, data, showSymbol:false,
    smooth:0.35, smoothMonotone:'x', lineStyle:{color, width}, itemStyle:{color}, silent:true, z:2};
}
function dots(gi, arr){
  return {name:'data', type:'scatter', xAxisIndex:gi, yAxisIndex:gi,
    data: velocity.map((v,k)=>[v, arr[k]]), symbol:'circle', symbolSize:4.8,
    itemStyle:{color:C.data, borderColor:'#8d98b3', borderWidth:0.5}, silent:true, z:4};
}
function misfitLine(gi, data){
  return {name:'misfit', type:'line', xAxisIndex:gi, yAxisIndex:gi, data, showSymbol:false,
    lineStyle:{color:C.mis, width:1.8}, silent:true, z:3,
    markLine:{silent:true, symbol:'none', label:{show:false}, animation:false,
      lineStyle:{color:'#111', width:1.4, type:'solid'}, data:[{yAxis:0}]}};
}
const spectra = [
  {gi:0, d:dataQ55, fit:fitQ55, s1:s1Q55, s2:s2Q55, s3:s3Q55, s4:s4Q55},
  {gi:1, d:dataQ0,  fit:fitQ0,  s1:s1Q0,  s2:s2Q0,  s3:s3Q0,  s4:s4Q0},
  {gi:3, d:dataA55, fit:fitA55, s1:s1A55, s2:s2A55, s3:s3A55, s4:s4A55},
  {gi:4, d:dataA0,  fit:fitA0,  s1:s1A0,  s2:s2A0,  s3:s3A0,  s4:s4A0}
];
const series = [];
spectra.forEach(p=>{
  series.push(line(seriesNames[0], p.gi, p.s4, C.s4, 2));
  series.push(line(seriesNames[1], p.gi, p.s3, C.s3, 2));
  series.push(line(seriesNames[2], p.gi, p.s2, C.s2, 2));
  series.push(line(seriesNames[3], p.gi, p.s1, C.s1, 2));
  series.push(line(seriesNames[4], p.gi, p.fit, C.fit, 2.2));
  series.push(dots(p.gi, p.d));
});
series.push(misfitLine(2, misfitQ));
series.push(misfitLine(5, misfitA));

// graphic: panel letter boxes, condition labels, legend
const boxes = [
  {x:77, y:205, w:38, h:46}, {x:74, y:473, w:39, h:47}, {x:73, y:638, w:38, h:48},
  {x:577, y:204, w:39, h:47}, {x:577, y:472, w:39, h:46}, {x:575, y:640, w:40, h:47}
];
const condPos = [[128,234],[160,497],[162,676],[623,230],[657,497],[657,676]];
const graphic = [];
boxes.forEach((b,i)=>{
  graphic.push({type:'rect', z:50, shape:{x:b.x, y:b.y, width:b.w, height:b.h},
    style:{fill:'#fff', stroke:'#333', lineWidth:2}});
  graphic.push({type:'text', z:51, x:b.x+b.w/2, y:b.y+b.h/2,
    style:{text:panelLetters[i], fill:'#111', font:'30px '+FONT, textAlign:'center', textVerticalAlign:'middle', align:'center', verticalAlign:'middle'}});
  graphic.push({type:'text', z:51, x:condPos[i][0], y:condPos[i][1],
    style:{text:conditions[i], fill:'#111', font:'22px '+FONT, textAlign:'left', textVerticalAlign:'middle', align:'left', verticalAlign:'middle'}});
});
// legend box
graphic.push({type:'rect', z:60, shape:{x:391, y:168, width:118, height:110},
  style:{fill:'#fff', stroke:'#444', lineWidth:1}});
const legColors = [C.data, C.fit, C.s1, C.s2, C.s3, C.s4];
legendEntries.forEach((e,k)=>{
  const cy = 180 + k*17.2;
  if (k===0) {
    graphic.push({type:'circle', z:61, shape:{cx:401, cy:cy, r:2.4}, style:{fill:C.data}});
  } else {
    graphic.push({type:'line', z:61, shape:{x1:395, y1:cy, x2:409, y2:cy}, style:{stroke:legColors[k], lineWidth:2}});
  }
  const txt = e[1] ? '{n|'+e[0]+'}{s|'+e[1]+'}{n|'+e[2]+'}' : '{n|'+e[0]+'}';
  graphic.push({type:'text', z:61, x:411, y:cy+0.5,
    style:{text:txt, fill:'#111', textAlign:'left', textVerticalAlign:'middle', align:'left', verticalAlign:'middle',
      rich:{n:{fontSize:17, fontFamily:FONT, fill:'#111', color:'#111', lineHeight:18},
            s:{fontSize:12, fontFamily:FONT, fill:'#111', color:'#111', lineHeight:12, verticalAlign:'top', padding:[0,1,0,1]}}}});
});

const option = {
  animation:false,
  backgroundColor:'#ffffff',
  textStyle:{fontFamily:FONT},
  title:[
    {text:titles[0], left:287, top:11, textAlign:'center', padding:0, textStyle:{fontSize:21, fontWeight:'normal', color:'#111', fontFamily:FONT}},
    {text:titles[1], left:756, top:11, textAlign:'center', padding:0, textStyle:{fontSize:21, fontWeight:'normal', color:'#111', fontFamily:FONT}}
  ],
  grid:gridOpts, xAxis:xAxes, yAxis:yAxes, series, graphic
};
const chart = echarts.init(document.getElementById('chart'), null, {renderer:'canvas', width:996, height:729});
chart.setOption(option);
</script></body></html>
